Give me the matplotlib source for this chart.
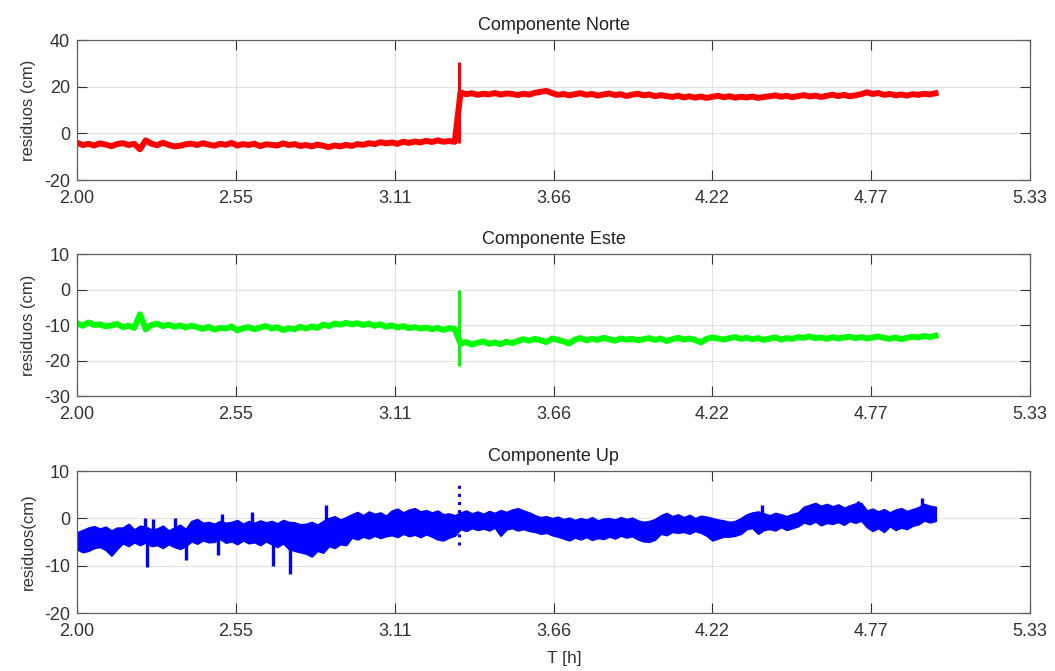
import numpy as np
import matplotlib.pyplot as plt

plt.rcParams['font.family'] = ['Liberation Sans', 'DejaVu Sans']
plt.rcParams['axes.unicode_minus'] = False

# residuals sampled every 0.02 h from 2.00 to 5.00 h
norte = [
    -4.0, -5.0, -4.5, -5.2, -4.3, -4.8, -5.5, -4.6, -4.2, -5.0,
    -4.5, -6.8, -3.0, -4.4, -5.1, -4.0, -4.9, -5.6, -5.3, -4.7,
    -4.4, -5.0, -4.2, -4.8, -5.3, -4.5, -4.9, -4.1, -5.2, -4.6,
    -5.0, -4.4, -5.5, -4.7, -4.9, -5.2, -4.3, -5.0, -4.6, -5.4,
    -5.0, -5.6, -4.8, -5.3, -5.9, -5.2, -5.6, -4.9, -5.4, -4.6,
    -4.9, -4.2, -4.6, -3.8, -4.3, -3.9, -4.5, -3.6, -4.1, -3.5,
    -3.9, -3.2, -3.7, -3.0, -3.6, -3.3, -3.6,
    17.5, 16.8, 17.2, 16.5, 17.0, 16.7, 17.3, 16.6, 17.1, 16.9,
    16.4, 17.0, 16.6, 17.4, 17.8, 18.2, 17.3, 16.5, 16.9, 16.3,
    16.8, 17.2, 16.5, 16.9, 16.2, 16.7, 17.1, 16.4, 16.8, 16.0,
    16.6, 17.0, 16.3, 16.7, 15.9, 16.4, 16.0, 15.6, 16.2, 15.4,
    15.9, 15.3, 15.8, 15.2, 15.7, 16.1, 15.5, 15.9, 15.3, 15.7,
    15.4, 15.8, 15.2, 15.6, 15.9, 16.3, 15.7, 16.1, 15.5, 16.0,
    16.4, 15.8, 16.2, 15.6, 16.1, 16.6, 16.0, 16.5, 15.9, 16.3,
    16.8, 17.6, 16.9, 17.3, 16.5, 16.9, 16.3, 16.7, 16.2, 16.8,
    16.5, 17.0, 16.7, 17.2,
]

este = [
    -9.5, -10.2, -9.3, -10.0, -9.8, -10.4, -10.1, -9.7, -10.6, -10.2,
    -10.8, -7.0, -11.2, -10.0, -9.6, -10.3, -9.9, -10.5, -10.1, -10.7,
    -10.2, -10.6, -11.1, -10.5, -11.3, -10.8, -11.0, -10.4, -11.5, -10.9,
    -10.6, -11.2, -10.7, -10.3, -11.0, -10.6, -11.4, -10.9, -11.2, -10.5,
    -11.0, -10.4, -10.8, -9.9, -10.3, -9.6, -9.9, -9.4, -9.8, -9.5,
    -10.0, -9.6, -10.2, -9.8, -10.5, -10.1, -10.7, -10.3, -10.9, -10.6,
    -11.0, -10.7, -11.2, -10.8, -11.4, -10.9, -11.1,
    -15.2, -14.8, -15.5, -15.0, -14.6, -15.3, -14.9, -15.4, -14.7, -15.1,
    -14.5, -14.0, -14.4, -13.9, -14.3, -14.8, -13.8, -14.2, -14.6, -15.2,
    -14.1, -13.7, -14.3, -13.9, -14.2, -13.6, -14.0, -14.4, -13.8, -14.1,
    -13.9, -14.3, -14.0, -13.7, -14.2, -13.8, -14.5, -14.0, -13.6, -14.1,
    -13.8, -14.2, -14.9, -13.9, -13.5, -13.8, -14.1, -13.7, -13.4, -13.9,
    -13.6, -14.0, -13.7, -14.2, -13.8, -13.5, -14.1, -13.7, -13.9, -13.4,
    -13.6, -13.2, -13.7, -13.5, -13.9, -13.4, -13.8, -13.5, -13.3, -13.7,
    -13.4, -13.8, -13.5, -13.2, -13.6, -13.9, -13.5, -14.0, -13.6, -13.3,
    -13.5, -13.1, -13.4, -13.0,
]

# Up component is a dense cloud: upper / lower edge of the band per sample
up_hi = [
    -3.0, -2.5, -2.0, -1.7, -2.2, -1.8, -2.6, -2.0, -2.0, -1.2,
    -2.4, -1.6, -1.8, -2.4, -2.2, -1.6, -2.6, -2.0, -1.4, -2.3,
    -0.6, -0.2, -1.0, -0.8, -1.2, -0.6, -1.0, -0.8, -0.4, -1.2,
    -0.6, -1.0, -0.5, -0.9, -0.6, -1.1, -0.4, -0.8, -0.9, -1.3,
    -1.2, -0.8, -1.4, -0.6, 0.0, 0.4, -0.3, 0.2, 0.8, 1.3,
    0.6, 1.4, 0.9, 1.2, 0.5, 1.6, 2.0, 1.2, 1.8, 2.1,
    1.4, 1.7, 1.2, 1.6, 0.8, 1.0, 0.6, 1.2, 1.6, 1.0,
    1.4, 0.9, 1.5, 1.1, 1.7, 1.3, 1.8, 2.1, 1.6, 1.2,
    0.6, 0.2, 0.4, 0.0, 0.3, -0.2, 0.1, -0.4, 0.0, -0.3,
    0.2, -0.5, -0.1, 0.0, -0.3, 0.2, -0.2, 0.1, -0.5, -0.8,
    -0.6, -0.2, 0.6, 1.1, 0.4, 0.8, 0.2, 0.7, 0.0, 0.5,
    0.3, 0.0, -0.3, -0.5, -0.8, -0.6, 0.0, 0.8, 1.2, 1.4,
    1.0, 0.6, 1.1, 0.8, 0.4, 0.9, 1.2, 2.4, 2.8, 3.2,
    2.6, 3.0, 2.5, 2.9, 2.2, 2.7, 3.1, 3.2, 1.6, 2.0,
    1.4, 1.9, 1.2, 1.8, 2.1, 1.5, 1.9, 2.3, 3.0, 2.6,
    2.4,
]
up_lo = [
    -6.5, -7.1, -6.8, -6.2, -6.0, -6.6, -7.8, -6.4, -5.2, -5.8,
    -5.0, -5.6, -5.0, -5.8, -5.6, -6.2, -5.4, -6.0, -6.4, -5.8,
    -4.8, -5.3, -4.6, -5.0, -4.9, -4.3, -5.1, -4.8, -5.4, -4.6,
    -5.2, -5.0, -5.6, -4.8, -5.4, -6.0, -5.2, -6.4, -6.8, -7.1,
    -7.4, -8.0, -6.8, -7.2, -5.8, -6.2, -5.4, -5.6, -4.0, -4.4,
    -3.8, -4.2, -3.6, -4.1, -3.7, -3.5, -3.9, -3.2, -3.7, -3.4,
    -3.9, -3.3, -3.8, -4.4, -4.6, -4.0, -3.6, -2.2, -2.6, -2.0,
    -2.4, -2.1, -2.5, -1.9, -3.6, -2.3, -2.0, -2.5, -2.2, -2.6,
    -2.8, -3.2, -3.0, -3.5, -3.8, -4.2, -4.6, -4.0, -4.4, -3.9,
    -4.5, -4.1, -4.3, -3.8, -4.2, -3.6, -4.0, -3.7, -4.4, -4.8,
    -4.9, -4.4, -3.2, -3.5, -2.8, -3.0, -2.8, -3.2, -2.6, -3.0,
    -3.6, -4.6, -4.2, -3.8, -3.8, -3.6, -3.2, -2.2, -2.0, -3.2,
    -2.4, -2.2, -2.5, -1.8, -2.4, -2.0, -1.6, -0.8, -1.2, -0.6,
    -1.4, -0.9, -1.1, -0.7, -1.3, -0.5, -0.9, -0.4, -1.8, -2.6,
    -2.0, -2.8, -1.6, -2.4, -1.9, -2.2, -1.5, -1.2, -0.4, -0.8,
    -0.5,
]
# isolated outliers of the Up cloud (time, tip value)
up_picos_t = [2.238, 2.245, 2.266, 2.342, 2.381, 2.493, 2.507, 2.611,
              2.685, 2.744, 2.870, 4.393, 4.729, 4.952]
up_picos_y = [0.0, -10.3, -0.2, 0.0, -8.7, -7.8, 1.0, 1.4,
              -10.0, -11.7, 2.8, 2.8, 3.7, 4.3]

# burst at the event time (min, max of the vertical line)
t_salto = 3.335
salto_norte = [-4.0, 30.5]
salto_este = [-21.5, 0.0]
salto_up = [-5.7, 7.0]

titulos = ['Componente Norte', 'Componente Este', 'Componente Up']
ylabels = ['residuos (cm)', 'residuos (cm)', 'residuos(cm)']
ylims = [(-20, 40), (-30, 10), (-20, 10)]
yticks = [[-20, 0, 20, 40], [-30, -20, -10, 0, 10], [-20, -10, 0, 10]]
xtick_labels = ['2.00', '2.55', '3.11', '3.66', '4.22', '4.77', '5.33']

t = np.linspace(2.0, 5.0, len(norte))
xticks = np.linspace(2.0, 5.33, len(xtick_labels))

fig = plt.figure(figsize=(10.55, 6.71), dpi=100)
posiciones = [[0.073, 0.7317, 0.9033, 0.2086],
              [0.073, 0.4098, 0.9033, 0.2116],
              [0.073, 0.0864, 0.9033, 0.2116]]
saltos = [salto_norte, salto_este, salto_up]
colores = ['#ff0000', '#00ff00', '#0000ff']

for k in range(3):
    ax = fig.add_axes(posiciones[k])
    c = colores[k]
    if k == 0:
        ax.plot(t, norte, color=c, lw=4.3, solid_joinstyle='round')
    elif k == 1:
        ax.plot(t, este, color=c, lw=4.3, solid_joinstyle='round')
    else:
        ax.fill_between(t, up_lo, up_hi, color=c, lw=1.5, edgecolor=c)
        mid = np.interp(up_picos_t, t, (np.array(up_lo) + np.array(up_hi)) / 2)
        ax.vlines(up_picos_t, mid, up_picos_y, color=c, lw=2.4)
    ax.vlines(t_salto, saltos[k][0], saltos[k][1], color=c, lw=2.2,
              linestyles=':' if k == 2 else '-')
    ax.set_xlim(2.0, 5.33)
    ax.set_ylim(*ylims[k])
    ax.set_xticks(xticks)
    ax.set_xticklabels(xtick_labels)
    ax.set_yticks(yticks[k])
    ax.grid(True, color='#e2e2e2', lw=0.8)
    ax.set_axisbelow(True)
    ax.tick_params(direction='in', top=True, right=True, length=7,
                   width=0.8, labelsize=13, colors='#333333')
    ax.tick_params(axis='x', pad=7)
    ax.tick_params(axis='y', pad=5)
    for s in ax.spines.values():
        s.set_color('#606060')
        s.set_linewidth(0.9)
    ax.set_title(titulos[k], fontsize=13, color='#222222', pad=7)
    ax.set_ylabel(ylabels[k], fontsize=12, color='#333333', labelpad=6)

ax.set_xlabel('T [h]', fontsize=12.5, color='#333333')
ax.xaxis.set_label_coords(0.511, -0.27)

fig.savefig('out.png', dpi=100)
